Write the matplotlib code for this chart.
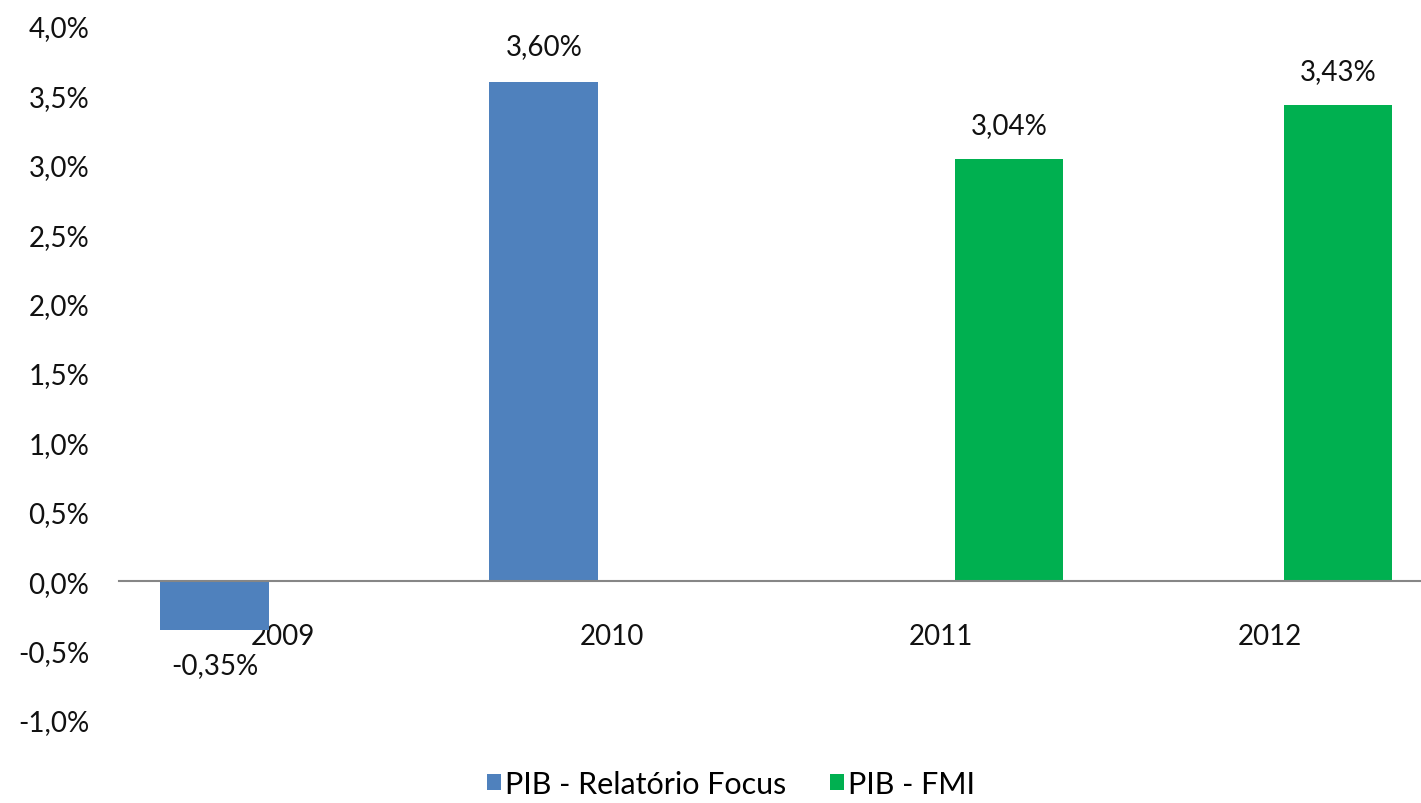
import matplotlib
matplotlib.use("Agg")
import matplotlib.pyplot as plt
import numpy as np

categories = ["2009", "2010", "2011", "2012"]
focus_values = [-0.35, 3.60, np.nan, np.nan]
fmi_values = [np.nan, np.nan, 3.04, 3.43]
series_names = ["PIB - Relatório Focus", "PIB - FMI"]
y_ticks = [-1.0, -0.5, 0.0, 0.5, 1.0, 1.5, 2.0, 2.5, 3.0, 3.5, 4.0]

plt.rcParams['font.family'] = ['Lato', 'DejaVu Sans']

fig = plt.figure(figsize=(14.21, 8.04), dpi=100)
ax = fig.add_axes([0.0834, 0.1032, 0.926, 0.8632])

x = np.arange(len(categories))
w = 0.331
d = 0.207
blue = "#4F81BD"
green = "#00B050"
txt = "#111111"

b1 = ax.bar(x - d, focus_values, w, color=blue, label=series_names[0], zorder=2)
b2 = ax.bar(x + d, fmi_values, w, color=green, label=series_names[1], zorder=2)

def fmt(v):
    return "" if np.isnan(v) else f"{v:.2f}%".replace(".", ",")

ax.bar_label(b1, labels=[fmt(v) for v in focus_values], padding=16, fontsize=20, color=txt)
ax.bar_label(b2, labels=[fmt(v) for v in fmi_values], padding=15, fontsize=20, color=txt)

for s in ["top", "right", "left"]:
    ax.spines[s].set_visible(False)
ax.spines["bottom"].set_position(("data", 0))
ax.spines["bottom"].set_color("#868686")
ax.spines["bottom"].set_linewidth(1.5)
ax.spines["bottom"].set_zorder(3)

ax.set_xlim(-0.5, 3.5)
ax.set_ylim(-1.0, 4.0)
ax.set_yticks(y_ticks)
ax.set_yticklabels([f"{t:.1f}%".replace(".", ",") for t in y_ticks])
ax.set_xticks(x)
ax.set_xticklabels(categories)
ax.tick_params(axis='y', length=0, pad=21, labelsize=20, labelcolor=txt)
ax.tick_params(axis='x', length=0, pad=30, labelsize=20, labelcolor=txt)

fig.legend(handles=[b1, b2], loc="center", bbox_to_anchor=(731/1421, 19/804), ncol=2,
           frameon=False, fontsize=22, handlelength=0.46, handleheight=0.46,
           handletextpad=0.15, columnspacing=1.4, borderpad=0.2)

fig.savefig("out.png", dpi=100)
